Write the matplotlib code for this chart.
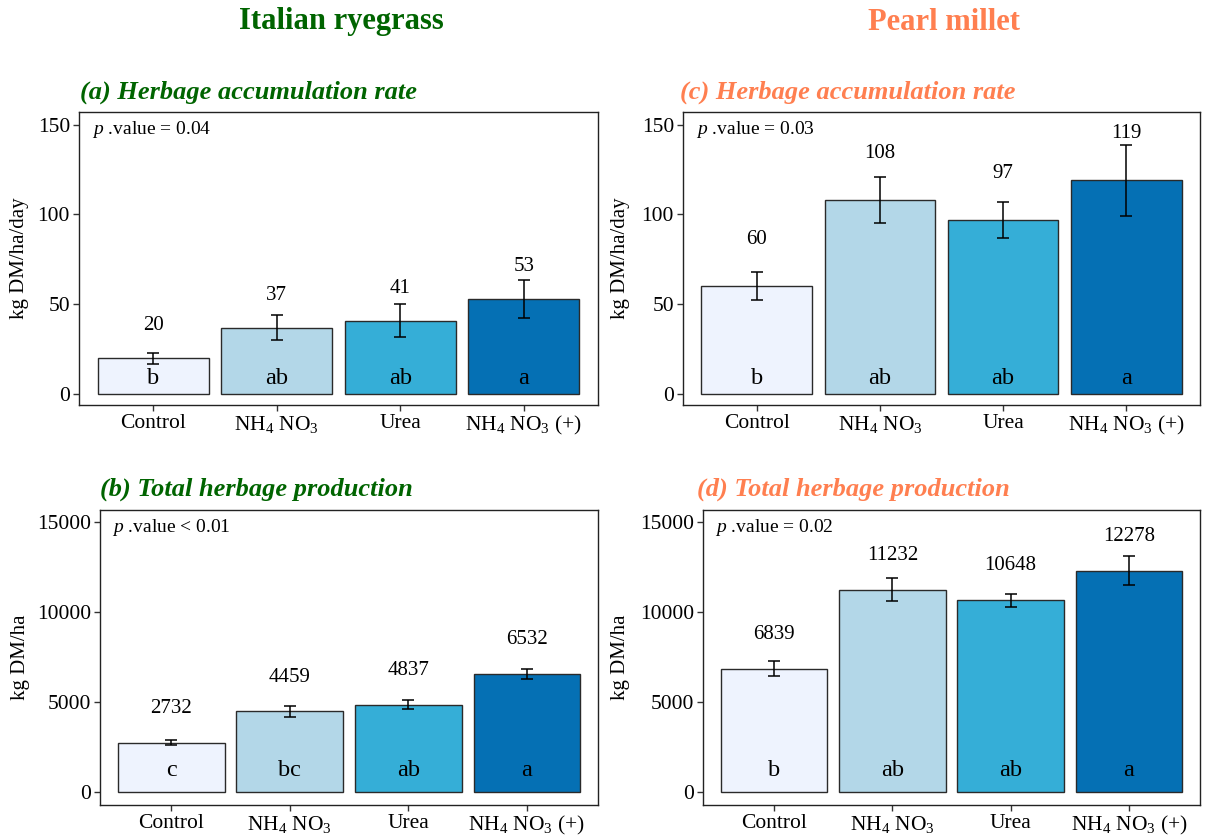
import numpy as np
import matplotlib
matplotlib.use("Agg")
from matplotlib import pyplot as plt

plt.rcParams['font.family'] = 'Liberation Serif'
plt.rcParams['mathtext.fontset'] = 'custom'
plt.rcParams['mathtext.rm'] = 'Liberation Serif'
plt.rcParams['mathtext.it'] = 'Liberation Serif:italic'
plt.rcParams['mathtext.bf'] = 'Liberation Serif:bold'

treatments = ['Control', r'NH$_4$ NO$_3$', 'Urea', r'NH$_4$ NO$_3$ (+)']
bar_colors = ['#EEF3FE', '#B3D7E8', '#35AED7', '#0570B4']

# Italian ryegrass
rye_rate = [20, 37, 41, 53]
rye_rate_se = [3.2, 7.0, 9.4, 10.5]
rye_rate_groups = ['b', 'ab', 'ab', 'a']
rye_total = [2732, 4459, 4837, 6532]
rye_total_se = [157, 296, 231, 270]
rye_total_groups = ['c', 'bc', 'ab', 'a']

# Pearl millet
millet_rate = [60, 108, 97, 119]
millet_rate_se = [7.8, 13.0, 10.2, 19.7]
millet_rate_groups = ['b', 'ab', 'ab', 'a']
millet_total = [6839, 11232, 10648, 12278]
millet_total_se = [408, 657, 362, 815]
millet_total_groups = ['b', 'ab', 'ab', 'a']

W, H = 1206, 835
fig = plt.figure(figsize=(W / 100, H / 100), dpi=100)


def px_axes(x0, y0, x1, y1):
    # axes box given in pixel coords (top-left origin)
    return fig.add_axes([x0 / W, (H - y1) / H, (x1 - x0) / W, (y1 - y0) / H])


def panel(box, means, ses, groups, title, color, ptext, ylabel,
          ylim, ticks, label_off, group_y, title_xy, ylabel_x):
    ax = px_axes(*box)
    x = np.arange(len(means))
    ax.bar(x, means, width=0.9, color=bar_colors, edgecolor='#2a2a2a',
           linewidth=1.0, zorder=2)
    ax.errorbar(x, means, yerr=ses, fmt='none', ecolor='black',
                elinewidth=1.1, capsize=4.5, capthick=1.1, zorder=3)
    for xi, m, g in zip(x, means, groups):
        ax.text(xi, m + label_off, f"{m}", ha='center', va='center',
                fontsize=15)
        ax.text(xi, group_y, g, ha='center', va='center', fontsize=17.5)
    ax.set_xlim(-0.6, len(means) - 0.4)
    ax.set_ylim(*ylim)
    ax.set_yticks(ticks)
    ax.set_xticks(x)
    ax.set_xticklabels(treatments)
    ax.tick_params(axis='both', labelsize=15.5, length=4, width=1,
                   color='#333333', labelcolor='black', pad=2.5)
    for s in ax.spines.values():
        s.set_color('#222222')
        s.set_linewidth(1.0)
    ax.text(0.025, 0.94, r'$p$ .value ' + ptext, transform=ax.transAxes,
            ha='left', va='center', fontsize=14)
    fig.text(title_xy[0] / W, 1 - title_xy[1] / H, title, color=color,
             fontsize=19, fontweight='bold', fontstyle='italic',
             ha='left', va='center')
    fig.text(ylabel_x / W, 1 - ((box[1] + box[3]) / 2) / H, ylabel,
             rotation=90, ha='center', va='center', fontsize=15)
    return ax


green = '#006400'
coral = '#FF7F50'

panel((79, 112, 598, 405), rye_rate, rye_rate_se, rye_rate_groups,
      '(a) Herbage accumulation rate', green, '= 0.04', 'kg DM/ha/day',
      (-6, 157), [0, 50, 100, 150], 18, 9, (80, 92), 20)
panel((100, 510, 598, 805), rye_total, rye_total_se, rye_total_groups,
      '(b) Total herbage production', green, '< 0.01', 'kg DM/ha',
      (-740, 15650), [0, 5000, 10000, 15000], 1900, 1150, (100, 489), 20)
panel((683, 112, 1200, 405), millet_rate, millet_rate_se, millet_rate_groups,
      '(c) Herbage accumulation rate', coral, '= 0.03', 'kg DM/ha/day',
      (-6, 157), [0, 50, 100, 150], 26, 9, (680, 92), 620)
panel((703, 510, 1200, 805), millet_total, millet_total_se, millet_total_groups,
      '(d) Total herbage production', coral, '= 0.02', 'kg DM/ha',
      (-740, 15650), [0, 5000, 10000, 15000], 1900, 1200, (697, 489), 620)

fig.text(341 / W, 1 - 22 / H, 'Italian ryegrass', color=green, fontsize=22,
         fontweight='bold', ha='center', va='center')
fig.text(944 / W, 1 - 22 / H, 'Pearl millet', color=coral, fontsize=22,
         fontweight='bold', ha='center', va='center')

fig.savefig('out.png', dpi=100)
